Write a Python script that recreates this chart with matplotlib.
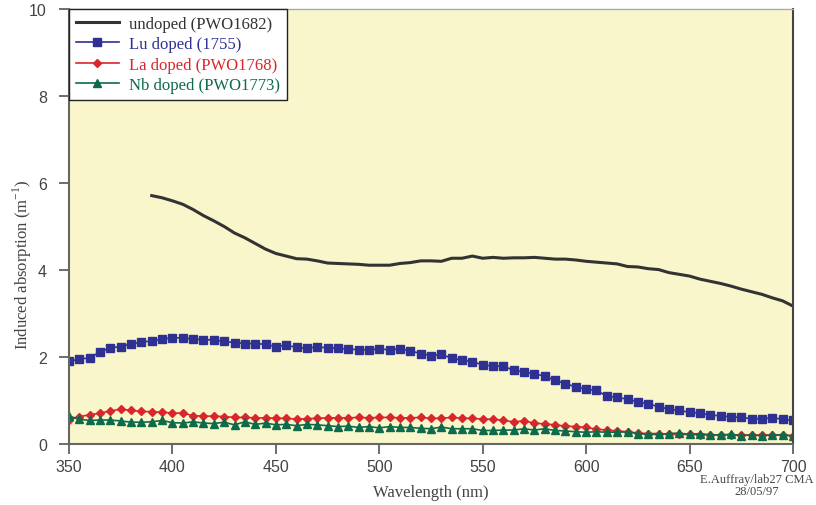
import numpy as np
import matplotlib
matplotlib.use("Agg")
import matplotlib.pyplot as plt

# wavelength grid of the doped samples (5 nm steps)
wl = np.arange(350, 701, 5)
# undoped sample only measured from 390 nm
wl_undoped = np.arange(390, 701, 5)

undoped = [5.71, 5.66, 5.59, 5.51, 5.39, 5.25, 5.13, 5.00, 4.85, 4.74, 4.61, 4.48, 4.38, 4.32,
           4.26, 4.25, 4.21, 4.16, 4.15, 4.14, 4.13, 4.11, 4.11, 4.11, 4.15, 4.17, 4.21, 4.21,
           4.20, 4.27, 4.27, 4.32, 4.27, 4.29, 4.27, 4.28, 4.28, 4.29, 4.27, 4.25, 4.25, 4.23,
           4.20, 4.18, 4.16, 4.14, 4.08, 4.07, 4.03, 4.01, 3.94, 3.90, 3.86, 3.79, 3.74, 3.69,
           3.63, 3.56, 3.50, 3.44, 3.36, 3.29, 3.17]

lu = [1.90, 1.95, 1.98, 2.12, 2.21, 2.24, 2.30, 2.34, 2.37, 2.41, 2.44, 2.44, 2.41, 2.40,
      2.39, 2.36, 2.33, 2.31, 2.31, 2.29, 2.24, 2.27, 2.22, 2.20, 2.23, 2.21, 2.20, 2.18,
      2.17, 2.16, 2.19, 2.16, 2.19, 2.14, 2.08, 2.03, 2.06, 1.97, 1.93, 1.89, 1.82, 1.79,
      1.79, 1.69, 1.66, 1.61, 1.56, 1.46, 1.39, 1.31, 1.26, 1.23, 1.10, 1.07, 1.03, 0.97,
      0.92, 0.86, 0.80, 0.77, 0.73, 0.71, 0.66, 0.65, 0.62, 0.61, 0.58, 0.58, 0.60, 0.57,
      0.54]

la = [0.55, 0.63, 0.67, 0.71, 0.76, 0.80, 0.77, 0.75, 0.74, 0.73, 0.71, 0.71, 0.65, 0.64,
      0.64, 0.63, 0.61, 0.61, 0.60, 0.60, 0.59, 0.59, 0.57, 0.58, 0.59, 0.60, 0.60, 0.60,
      0.61, 0.60, 0.61, 0.61, 0.60, 0.60, 0.61, 0.59, 0.59, 0.61, 0.59, 0.59, 0.57, 0.57,
      0.54, 0.51, 0.53, 0.48, 0.46, 0.44, 0.41, 0.40, 0.38, 0.34, 0.32, 0.30, 0.28, 0.25,
      0.24, 0.24, 0.22, 0.22, 0.22, 0.21, 0.21, 0.21, 0.21, 0.21, 0.20, 0.21, 0.20, 0.21,
      0.18]

nb = [0.64, 0.57, 0.54, 0.55, 0.55, 0.53, 0.50, 0.50, 0.51, 0.54, 0.49, 0.48, 0.51, 0.48,
      0.47, 0.50, 0.44, 0.51, 0.45, 0.48, 0.44, 0.45, 0.42, 0.45, 0.44, 0.42, 0.40, 0.41,
      0.38, 0.40, 0.37, 0.40, 0.38, 0.38, 0.36, 0.35, 0.39, 0.35, 0.35, 0.35, 0.31, 0.31,
      0.32, 0.32, 0.35, 0.32, 0.35, 0.31, 0.30, 0.28, 0.27, 0.28, 0.27, 0.27, 0.28, 0.24,
      0.22, 0.22, 0.24, 0.25, 0.22, 0.24, 0.21, 0.21, 0.22, 0.19, 0.21, 0.19, 0.21, 0.21,
      0.19]

labels = ["undoped (PWO1682)", "Lu doped (1755)", "La doped (PWO1768)", "Nb doped (PWO1773)"]
c_undoped = "#333333"
c_lu = "#2E3192"
c_la = "#D9262C"
c_nb = "#0D6B4C"

serif = ["Liberation Serif", "DejaVu Serif"]
plt.rcParams["font.family"] = ["Liberation Sans", "DejaVu Sans"]

fig = plt.figure(figsize=(8.16, 5.06), dpi=100)
ax = fig.add_axes([0.0846, 0.1206, 0.8872, 0.8596])
ax.set_facecolor("#FAF6CB")

ax.plot(wl_undoped, undoped, color=c_undoped, lw=2.2, label=labels[0])
ax.plot(wl, lu, color=c_lu, lw=1.2, marker="s", ms=5.6, label=labels[1])
ax.plot(wl, la, color=c_la, lw=1.2, marker="D", ms=4.2, label=labels[2])
ax.plot(wl, nb, color=c_nb, lw=1.2, marker="^", ms=5.6, label=labels[3])

ax.set_xlim(350, 700)
ax.set_ylim(0, 10)
ax.set_xticks(np.arange(350, 701, 50))
ax.set_yticks(np.arange(0, 11, 2))
ax.tick_params(direction="out", length=7, width=1.2, color="#555555",
               labelcolor="#444444", labelsize=11.5)
ax.tick_params(axis="y", pad=9)

for s in ["left", "bottom"]:
    ax.spines[s].set_color("#666666")
    ax.spines[s].set_linewidth(1.5)
ax.spines["right"].set_color("#444444")
ax.spines["right"].set_linewidth(1.5)
ax.spines["top"].set_color("#AAAAAA")
ax.spines["top"].set_linewidth(1.0)

ax.set_xlabel("Wavelength (nm)", family=serif, fontsize=12, color="#444444")
ax.set_ylabel("Induced absorption (m$^{\\mathregular{-1}}$)", family=serif, fontsize=12,
              color="#444444")
ax.xaxis.set_label_coords(0.5, -0.093)
ax.yaxis.set_label_coords(-0.048, 0.414)

leg = ax.legend(loc="upper left", bbox_to_anchor=(0, 1), borderaxespad=0, frameon=True,
                fancybox=False, edgecolor="#222222", facecolor="white", framealpha=1,
                prop={"family": serif, "size": 12}, handlelength=2.6, handletextpad=0.6,
                labelspacing=0.27, borderpad=0.4)
leg.get_frame().set_linewidth(1.0)
for txt, col in zip(leg.get_texts(), [c_undoped, c_lu, c_la, c_nb]):
    txt.set_color(col)

fig.text(0.927, 0.04, "E.Auffray/lab27 CMA\n28/05/97", family=serif, fontsize=9,
         color="#444444", ha="center", va="center", linespacing=1.05)

fig.savefig("out.png", dpi=100)
